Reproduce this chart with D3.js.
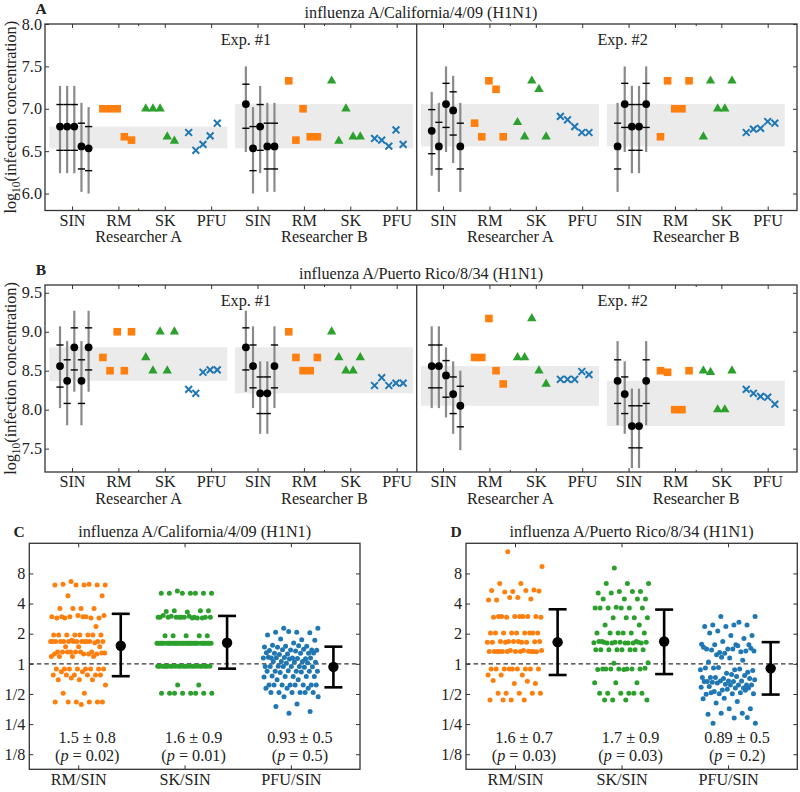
<!DOCTYPE html>
<html><head><meta charset="utf-8">
<script src="https://cdn.jsdelivr.net/npm/d3@7"></script>
<style>
body{margin:0;background:#fff}
</style></head><body>
<svg id="c" width="800" height="792"></svg>
<script>
// ---------------- DATA ----------------
const methods = ["SIN","RM","SK","PFU"];
const researchers = ["Researcher A","Researcher B"];
const expLabels = ["Exp. #1","Exp. #2"];
const topTitles = ["influenza A/California/4/09 (H1N1)","influenza A/Puerto Rico/8/34 (H1N1)"];
const panelLetters = ["A","B","C","D"];
const yTicksA = [6.0,6.5,7.0,7.5,8.0];
const yTicksB = [7.5,8.0,8.5,9.0,9.5];

// Groups in order: Exp1-ResA, Exp1-ResB, Exp2-ResA, Exp2-ResB ; 5 replicates each (log10 values)
const calSIN    = [[6.79,6.79,6.79,6.556,6.533],[7.055,6.533,6.79,6.556,6.556],[6.74,6.556,7.055,6.98,6.556],[6.556,7.055,6.79,6.79,7.055]];
const calSINhi1 = [[7.05,7.05,7.05,6.83,6.79],[7.29,6.79,7.05,6.83,6.83],[6.99,6.84,7.30,7.20,6.83],[6.83,7.30,7.05,7.05,7.30]];
const calSINlo1 = [[6.51,6.51,6.51,6.29,6.27],[6.77,6.27,6.51,6.29,6.29],[6.47,6.29,6.78,6.69,6.29],[6.29,6.78,6.51,6.51,6.78]];
const calSINhi2 = [[7.27,7.27,7.27,7.07,7.02],[7.50,7.02,7.27,7.07,7.07],[7.20,7.07,7.50,7.39,7.07],[7.07,7.50,7.27,7.27,7.50]];
const calSINlo2 = [[6.24,6.24,6.24,6.02,6.00],[6.49,6.00,6.24,6.02,6.02],[6.21,6.02,6.49,6.36,6.02],[6.02,6.49,6.24,6.24,6.49]];
const calRM  = [[7.0,7.0,7.0,6.67,6.63],[7.33,6.63,7.0,6.67,6.67],[6.83,6.67,7.33,7.23,6.67],[6.67,7.33,7.0,7.0,7.33]];
const calSK  = [[7.0,7.0,7.0,6.67,6.62],[7.33,6.62,7.0,6.67,6.67],[6.84,6.67,7.33,7.23,6.67],[6.67,7.33,7.0,7.0,7.33]];
const calPFU = [[6.72,6.51,6.58,6.68,6.83],[6.65,6.63,6.56,6.75,6.58],[6.91,6.87,6.79,6.72,6.72],[6.72,6.76,6.77,6.85,6.83]];

const prSIN    = [[8.56,8.37,8.80,8.37,8.80],[8.80,8.56,8.21,8.21,8.56],[8.56,8.56,8.44,8.20,8.05],[8.37,8.20,7.79,7.79,8.37]];
const prSINhi1 = [[8.83,8.64,9.05,8.64,9.05],[9.05,8.83,8.42,8.42,8.83],[8.83,8.83,8.63,8.42,8.30],[8.64,8.42,8.05,8.05,8.64]];
const prSINlo1 = [[8.29,8.08,8.51,8.08,8.51],[8.51,8.28,7.95,7.95,8.28],[8.28,8.28,8.16,7.95,7.78],[8.08,7.95,7.51,7.51,8.08]];
const prSINhi2 = [[9.07,8.88,9.27,8.88,9.27],[9.27,9.07,8.62,8.62,9.07],[9.07,9.07,8.80,8.62,8.50],[8.88,8.62,8.27,8.27,8.88]];
const prSINlo2 = [[8.02,7.80,8.23,7.80,8.23],[8.23,8.02,7.69,7.69,8.02],[8.02,8.02,7.90,7.69,7.48],[7.80,7.69,7.25,7.25,7.80]];
const prRM  = [[8.67,8.5,9.0,8.5,9.0],[9.0,8.67,8.5,8.5,8.67],[8.67,8.67,9.17,8.5,8.33],[8.5,8.48,8.0,8.0,8.5]];
const prSK  = [[8.67,8.5,9.0,8.5,9.0],[9.0,8.67,8.5,8.5,8.67],[8.67,8.67,9.17,8.5,8.33],[8.5,8.48,8.0,8.0,8.5]];
const prPFU = [[8.26,8.21,8.48,8.51,8.51],[8.31,8.41,8.31,8.34,8.34],[8.39,8.39,8.39,8.49,8.45],[8.26,8.21,8.17,8.16,8.07]];

// Panels C, D: ratios (log2 of ratio)
const ratioLabels = ["RM/SIN","SK/SIN","PFU/SIN"];
const log2Ticks = [-3,-2,-1,0,1,2,3];
const log2TickLabels = ["1/8","1/4","1/2","1","2","4","8"];

const calRMlog2 = [2.73,2.62,2.62,2.64,2.62,2.62,2.62,2.64,
 2.26,2.26,
 1.84,1.84,1.84,1.84,
 1.56,1.56,1.52,1.52,1.60,1.52,1.52,1.56,1.60,1.56,1.56,
 1.24,
 0.96,0.96,0.96,0.96,0.96,0.96,0.96,0.96,
 0.78,0.74,0.74,0.74,0.74,0.74,0.74,0.74,0.74,0.74,0.74,0.74,0.70,0.74,0.74,0.74,
 0.57,0.57,0.57,
 0.39,0.39,0.39,0.36,0.33,0.39,0.33,0.39,0.33,0.33,0.39,0.36,0.39,
 0.24,0.24,0.24,0.24,
 -0.17,-0.17,-0.17,-0.17,-0.17,-0.17,-0.17,-0.17,
 -0.26,-0.26,
 -0.37,-0.37,-0.37,-0.37,-0.37,-0.37,
 -0.53,-0.53,-0.53,-0.47,
 -0.70,
 -0.98,-0.98,
 -1.27,-1.27,-1.27,-1.27,-1.27,-1.27,
 -1.35];
const calSKlog2 = [2.42,2.34,2.34,2.34,2.34,2.34,2.34,2.34,
 1.76,1.76,1.72,1.74,1.76,
 1.55,1.55,1.52,1.58,1.55,1.55,1.60,1.52,1.55,1.55,1.58,1.55,1.52,1.55,1.55,1.55,
 0.93,0.93,0.93,0.93,0.93,
 0.68,0.68,0.68,0.68,0.68,0.68,0.68,0.68,0.68,0.68,0.68,0.68,0.68,0.68,0.68,0.68,0.68,
 0.68,0.68,0.68,0.68,0.68,0.68,0.68,0.68,0.68,0.68,0.68,0.68,0.68,0.68,0.68,
 -0.08,-0.08,-0.08,-0.08,-0.08,-0.08,-0.08,-0.08,-0.08,-0.08,-0.08,
 -0.08,-0.08,-0.08,-0.08,-0.08,-0.08,-0.08,-0.08,-0.08,-0.08,-0.08,
 -0.70,-0.70,
 -0.98,-0.98,-0.98,-0.98,-0.98,-0.98,-0.98,-0.98];
const calPFUlog2 = [1.18,1.18,1.05,1.05,1.03,1.07,0.96,0.80,0.82,0.78,0.69,0.62,0.58,0.58,0.56,0.60,0.55,
 0.46,0.46,0.44,0.48,0.47,0.45,0.43,0.35,0.35,0.33,0.37,0.35,0.31,0.36,
 0.19,0.19,0.17,0.21,0.19,0.18,0.20,0.19,0.16,0.22,0.08,0.08,0.05,0.06,0.08,0.04,0.02,
 -0.09,-0.09,-0.08,-0.10,-0.09,-0.09,-0.11,-0.09,-0.25,-0.25,-0.25,-0.25,-0.23,-0.25,-0.27,-0.29,
 -0.42,-0.42,-0.40,-0.42,-0.42,-0.44,-0.53,-0.53,
 -0.70,-0.70,-0.70,-0.70,-0.70,-0.70,-0.70,-0.70,-0.81,-0.81,-0.81,
 -0.95,-0.95,-0.95,-0.95,-0.95,-0.95,-1.09,-1.09,-1.33,-1.42,-1.58,-1.64];

const prRMlog2 = [3.72,3.23,2.67,2.67,
 2.45,2.40,2.43,2.43,2.38,2.42,
 2.20,2.12,2.15,2.20,2.12,
 1.57,1.57,1.57,1.57,1.55,1.57,1.55,1.55,1.57,1.57,
 1.02,1.02,1.02,1.02,1.02,1.02,1.02,1.02,1.02,
 0.74,0.72,0.72,0.74,0.73,0.74,0.72,0.72,0.72,0.74,0.74,
 0.41,0.41,0.44,0.41,0.44,0.41,0.40,0.41,0.41,0.42,0.41,0.44,0.41,0.41,0.41,
 -0.17,-0.17,-0.17,-0.17,-0.17,-0.17,-0.17,-0.17,-0.17,
 -0.37,-0.37,-0.37,
 -0.65,-0.65,-0.55,-0.58,
 -0.98,-0.98,-0.98,-0.98,-0.98,
 -1.20,-1.20,-1.20,-1.20];
const prSKlog2 = [3.18,2.67,2.67,2.67,
 2.40,2.40,2.35,2.40,2.35,
 2.15,2.15,2.15,2.15,
 1.88,1.85,1.85,1.85,1.85,1.85,1.85,
 1.53,1.53,1.53,1.53,1.29,1.29,
 1.02,1.02,1.02,1.02,1.02,1.02,
 0.74,0.74,0.72,0.70,0.69,0.69,0.69,0.72,0.74,0.69,0.69,0.72,0.69,0.72,0.72,
 0.47,0.47,0.47,0.47,0.47,0.47,0.47,0.47,
 0.02,0.04,
 -0.17,-0.17,-0.17,-0.17,-0.19,-0.17,-0.17,-0.15,-0.19,-0.17,
 -0.63,-0.63,-0.63,
 -0.98,-0.98,-0.98,-0.98,-0.98,-0.98,
 -1.20,-1.20,-1.20,-1.20];
const prPFUlog2 = [1.57,1.57,1.29,1.29,1.29,1.24,1.24,1.38,1.09,0.94,0.94,1.02,
 0.84,0.74,0.65,0.63,0.63,0.63,0.49,0.49,0.40,0.38,0.43,0.49,0.46,0.43,0.35,0.55,0.60,0.30,0.52,
 0.19,0.06,0.12,0.22,
 -0.20,-0.20,-0.14,-0.28,-0.31,-0.14,-0.17,-0.12,-0.22,-0.35,-0.45,-0.39,-0.49,-0.45,-0.42,-0.45,-0.49,
 -0.57,-0.59,-0.57,-0.57,-0.53,-0.59,-0.61,-0.70,-0.68,-0.59,-0.70,-0.64,-0.70,-0.70,-0.75,
 -0.80,-0.87,-0.78,-0.80,-0.92,-0.80,-0.84,-1.01,-0.96,-0.99,-0.99,-0.99,-0.96,-0.88,
 -1.14,-1.16,-1.25,-1.30,-1.49,-1.49,-1.67,-1.64,-1.64,-1.97,-1.80,-1.97,-1.78];

const calMean = [0.60,0.70,-0.10], calHi = [1.66,1.59,0.57], calLo = [-0.41,-0.16,-0.78];
const prMean  = [0.72,0.74,-0.15], prHi  = [1.81,1.80,0.72], prLo  = [-0.37,-0.34,-1.02];
const calStats = ["1.5 ± 0.8","1.6 ± 0.9","0.93 ± 0.5"], calP = ["0.02","0.01","0.5"];
const prStats  = ["1.6 ± 0.7","1.7 ± 0.9","0.89 ± 0.5"], prP  = ["0.03","0.03","0.2"];

// ---------------- DRAWING ----------------
const FONT = '"Liberation Serif","Times New Roman",serif';
const FS = 16.2;
const COL = {SIN:"#000", RM:"#ff7f0e", SK:"#2ca02c", PFU:"#1f77b4"};
const AX = "#333";
const svg = d3.select("#c").attr("font-family", FONT);

function txt(g, x, y, s, opt={}) {
  return g.append("text").attr("x", x).attr("y", y).attr("text-anchor", opt.anchor || "middle")
    .attr("font-size", opt.size || FS).attr("font-weight", opt.weight || "normal")
    .attr("fill", "#222").text(s);
}
function styleAxis(sel) {
  sel.attr("font-family", FONT).attr("font-size", FS);
  sel.select(".domain").remove();
  sel.selectAll(".tick line").attr("stroke", AX).attr("stroke-width", 1);
  sel.selectAll(".tick text").attr("fill", "#222");
}

function drawTop(cfg) {
  const g = svg.append("g");
  const X0 = 45, X1 = 797;
  const x = d3.scaleLinear().domain([-2.1, 103.1]).range([X0, X1]);
  const y = d3.scaleLinear().domain(cfg.ydom).range([cfg.yb, cfg.yt]);
  const pos = (gi, m, j) => gi * 26 + m * 6 + j;

  // shaded SIN range bands
  cfg.sin.forEach((vals, gi) => {
    const ext = d3.extent(vals);
    g.append("rect").attr("x", x(gi * 26 - 1.5)).attr("width", x(gi * 26 + 23.4) - x(gi * 26 - 1.5))
      .attr("y", y(ext[1])).attr("height", y(ext[0]) - y(ext[1])).attr("fill", "#ebebeb");
  });
  // SIN error bars
  cfg.sin.forEach((vals, gi) => vals.forEach((v, j) => {
    const px = x(pos(gi, 0, j));
    g.append("line").attr("x1", px).attr("x2", px).attr("y1", y(cfg.hi2[gi][j])).attr("y2", y(cfg.lo2[gi][j]))
      .attr("stroke", "#8a8a8a").attr("stroke-width", 2.2);
    [cfg.hi1[gi][j], cfg.lo1[gi][j]].forEach(t => {
      g.append("line").attr("x1", px - 3.6).attr("x2", px + 3.6).attr("y1", y(t)).attr("y2", y(t))
        .attr("stroke", "#000").attr("stroke-width", 1.4);
    });
  }));
  // markers
  cfg.sin.forEach((vals, gi) => vals.forEach((v, j) => {
    g.append("circle").attr("cx", x(pos(gi, 0, j))).attr("cy", y(v)).attr("r", 3.9).attr("fill", COL.SIN);
  }));
  cfg.rm.forEach((vals, gi) => vals.forEach((v, j) => {
    g.append("rect").attr("x", x(pos(gi, 1, j)) - 3.8).attr("y", y(v) - 3.8).attr("width", 7.6).attr("height", 7.6).attr("fill", COL.RM);
  }));
  const tri = d3.symbol(d3.symbolTriangle, 38)();
  cfg.sk.forEach((vals, gi) => vals.forEach((v, j) => {
    g.append("path").attr("d", tri).attr("transform", `translate(${x(pos(gi, 2, j))},${y(v)})`).attr("fill", COL.SK);
  }));
  cfg.pfu.forEach((vals, gi) => vals.forEach((v, j) => {
    g.append("path").attr("d", "M-3.4,-3.4L3.4,3.4M-3.4,3.4L3.4,-3.4").attr("transform", `translate(${x(pos(gi, 3, j))},${y(v)})`)
      .attr("stroke", COL.PFU).attr("stroke-width", 2).attr("fill", "none");
  }));

  // axes
  const tickPos = d3.range(16).map(k => 1.68 + k * 6.488);
  const minorPos = d3.range(4).map(gi => gi * 26 + 11);
  const bx = g.append("g").attr("transform", `translate(0,${cfg.yb})`)
    .call(d3.axisBottom(x).tickValues(tickPos).tickFormat((d, i) => methods[i % 4]).tickSizeInner(-4).tickSizeOuter(0).tickPadding(3.5));
  styleAxis(bx);
  const tx = g.append("g").attr("transform", `translate(0,${cfg.yt})`)
    .call(d3.axisTop(x).tickValues(tickPos).tickFormat("").tickSizeInner(-4).tickSizeOuter(0));
  styleAxis(tx);
  [[cfg.yb, -2], [cfg.yt, 2]].forEach(([yy, d]) => {
    minorPos.forEach(p => g.append("line").attr("x1", x(p)).attr("x2", x(p)).attr("y1", yy).attr("y2", yy + d).attr("stroke", AX));
  });
  const ly = g.append("g").attr("transform", `translate(${X0},0)`)
    .call(d3.axisLeft(y).tickValues(cfg.yticks).tickFormat(d3.format(".1f")).tickSizeInner(-4).tickSizeOuter(0).tickPadding(3));
  styleAxis(ly);
  const ry = g.append("g").attr("transform", `translate(${X1},0)`)
    .call(d3.axisRight(y).tickValues(cfg.yticks).tickFormat("").tickSizeInner(-4).tickSizeOuter(0));
  styleAxis(ry);
  // frame + divider
  g.append("rect").attr("x", X0).attr("y", cfg.yt).attr("width", X1 - X0).attr("height", cfg.yb - cfg.yt)
    .attr("fill", "none").attr("stroke", AX).attr("stroke-width", 1.3);
  g.append("line").attr("x1", x(49.9)).attr("x2", x(49.9)).attr("y1", cfg.yt).attr("y2", cfg.yb).attr("stroke", AX).attr("stroke-width", 1.3);

  // researcher labels
  minorPos.forEach((p, gi) => txt(g, x(p), cfg.yb + 31.5, researchers[gi % 2]));
  // experiment labels
  [26, 78.7].forEach((p, e) => txt(g, x(p), cfg.yt + 20.5, expLabels[e]));
  // titles
  txt(g, (X0 + X1) / 2, cfg.yt - 6, cfg.title);
  txt(g, 41, cfg.yt - 10, cfg.letter, {weight: "bold", size: 15.5});
  // y label
  const yl = g.append("text").attr("transform", `translate(16,${(cfg.yt + cfg.yb) / 2}) rotate(-90)`)
    .attr("text-anchor", "middle").attr("font-size", FS).attr("fill", "#222");
  yl.append("tspan").text("log");
  yl.append("tspan").attr("font-size", 11.5).attr("dy", 4).text("10");
  yl.append("tspan").attr("dy", -4).text("(infection concentration)");
}

drawTop({yt: 24, yb: 210.5, ydom: [5.8, 8.0], yticks: yTicksA, title: topTitles[0], letter: panelLetters[0],
  sin: calSIN, hi1: calSINhi1, lo1: calSINlo1, hi2: calSINhi2, lo2: calSINlo2, rm: calRM, sk: calSK, pfu: calPFU});
drawTop({yt: 285, yb: 472, ydom: [7.2, 9.6], yticks: yTicksB, title: topTitles[1], letter: panelLetters[1],
  sin: prSIN, hi1: prSINhi1, lo1: prSINlo1, hi2: prSINhi2, lo2: prSINlo2, rm: prRM, sk: prSK, pfu: prPFU});

const jitter = i => ((i * 0.6180339887 + 0.37) % 1 - 0.5) * 0.52;

function drawBottom(cfg) {
  const g = svg.append("g");
  const [X0, X1] = cfg.xr, YT = 543.3, YB = 769.3;
  const x = d3.scaleLinear().domain([-0.46, 2.65]).range(cfg.xr);
  const y = d3.scaleLinear().domain([-3.5, 4]).range([YB, YT]);
  const cols = [COL.RM, COL.SK, COL.PFU];
  // dashed reference at ratio 1
  g.append("line").attr("x1", X0).attr("x2", X1).attr("y1", y(0)).attr("y2", y(0))
    .attr("stroke", AX).attr("stroke-width", 1.2).attr("stroke-dasharray", "4.5,3");
  // scatter
  cfg.series.forEach((vals, ci) => vals.forEach((v, i) => {
    g.append("circle").attr("cx", x(ci + jitter(i))).attr("cy", y(v)).attr("r", 2.5).attr("fill", cols[ci]);
  }));
  // summary error bars
  cfg.mean.forEach((m, ci) => {
    const px = x(ci + 0.4);
    g.append("line").attr("x1", px).attr("x2", px).attr("y1", y(cfg.hi[ci])).attr("y2", y(cfg.lo[ci])).attr("stroke", "#000").attr("stroke-width", 2.6);
    [cfg.hi[ci], cfg.lo[ci]].forEach(t => g.append("line").attr("x1", px - 9).attr("x2", px + 9).attr("y1", y(t)).attr("y2", y(t)).attr("stroke", "#000").attr("stroke-width", 2.6));
    g.append("circle").attr("cx", px).attr("cy", y(m)).attr("r", 5.2).attr("fill", "#000");
    // annotations
    txt(g, x(ci + 0.085), 743, cfg.stats[ci]);
    const t = txt(g, x(ci + 0.085), 760.5, "");
    t.append("tspan").text("(");
    t.append("tspan").attr("font-style", "italic").text("p");
    t.append("tspan").text(" = " + cfg.p[ci] + ")");
  });
  // axes
  const bx = g.append("g").attr("transform", `translate(0,${YB})`)
    .call(d3.axisBottom(x).tickValues([0, 1, 2]).tickFormat((d, i) => ratioLabels[i]).tickSizeInner(-4).tickSizeOuter(0).tickPadding(4.5));
  styleAxis(bx);
  const tx = g.append("g").attr("transform", `translate(0,${YT})`)
    .call(d3.axisTop(x).tickValues([0, 1, 2]).tickFormat("").tickSizeInner(-4).tickSizeOuter(0));
  styleAxis(tx);
  const ly = g.append("g").attr("transform", `translate(${X0},0)`)
    .call(d3.axisLeft(y).tickValues(log2Ticks).tickFormat((d, i) => log2TickLabels[i]).tickSizeInner(-4).tickSizeOuter(0).tickPadding(4));
  styleAxis(ly);
  const ry = g.append("g").attr("transform", `translate(${X1},0)`)
    .call(d3.axisRight(y).tickValues(log2Ticks).tickFormat("").tickSizeInner(-4).tickSizeOuter(0));
  styleAxis(ry);
  g.append("rect").attr("x", X0).attr("y", YT).attr("width", X1 - X0).attr("height", YB - YT)
    .attr("fill", "none").attr("stroke", AX).attr("stroke-width", 1.3);
  txt(g, (X0 + X1) / 2, 537, cfg.title);
  txt(g, cfg.letterX, 537, cfg.letter, {weight: "bold", size: 15.5});
}

drawBottom({xr: [29.3, 360], title: topTitles[0], letter: panelLetters[2], letterX: 19,
  series: [calRMlog2, calSKlog2, calPFUlog2], mean: calMean, hi: calHi, lo: calLo, stats: calStats, p: calP});
drawBottom({xr: [466, 797.3], title: topTitles[1], letter: panelLetters[3], letterX: 456,
  series: [prRMlog2, prSKlog2, prPFUlog2], mean: prMean, hi: prHi, lo: prLo, stats: prStats, p: prP});
</script>
</body></html>
